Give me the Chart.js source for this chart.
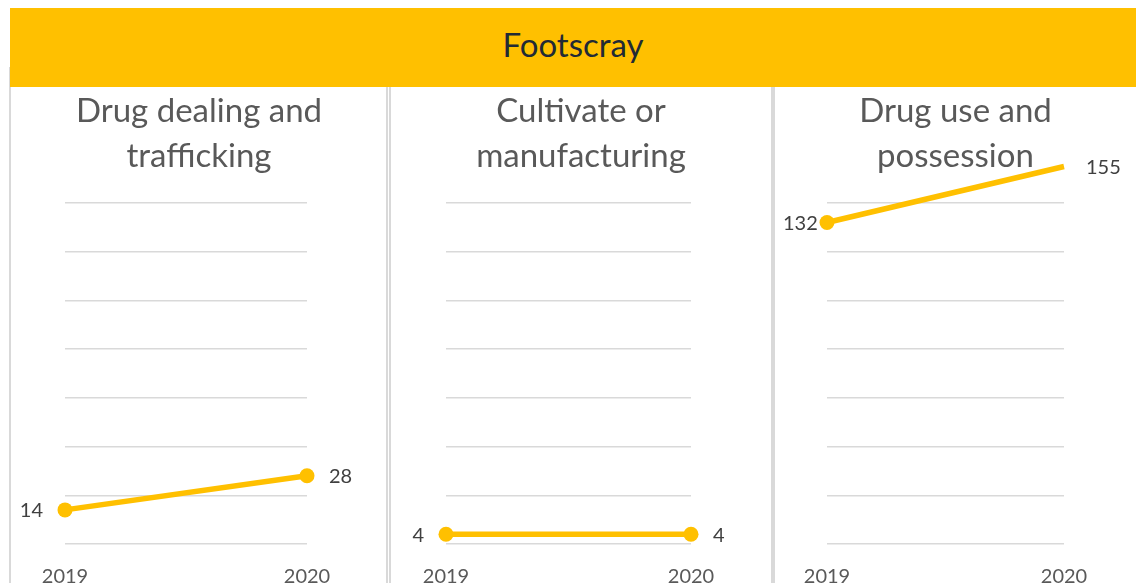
<!DOCTYPE html>
<html>
<head>
<meta charset="utf-8">
<script src="https://cdn.jsdelivr.net/npm/chart.js@4"></script>
<style>
  html, body { margin: 0; padding: 0; background: #fff; }
  body { width: 1136px; height: 583px; overflow: hidden; position: relative; font-family: Lato, sans-serif; }
  .cabecera { position: absolute; left: 10px; top: 8px; width: 1126px; height: 79px; background: #FFC000; z-index: 2; }
  .cabecera span { position: absolute; left: 0; right: 0; top: 20px; text-align: center; font-size: 33px; line-height: 33px; color: #222a35; }
  .borde { position: absolute; top: 67px; bottom: 0; width: 2px; background: #d9d9d9; z-index: 1; }
  .panel { position: absolute; top: 86px; height: 497px; }
  .panel canvas { position: absolute; left: 0; top: 0; }
  .titulo { position: absolute; left: 0; right: 0; top: 1px; text-align: center; font-size: 33px; line-height: 45px; color: #595959; z-index: 1; pointer-events: none; }
</style>
</head>
<body>

<div class="cabecera"><span>Footscray</span></div>

<div class="borde" style="left:9px"></div>
<div class="borde" style="left:386px"></div>
<div class="borde" style="left:389px"></div>
<div class="borde" style="left:771px; width:4px"></div>

<div class="panel" id="panel0" style="left:10px; width:378px"><div class="titulo" id="titulo0"></div><canvas id="plot0"></canvas></div>
<div class="panel" id="panel1" style="left:390px; width:382px"><div class="titulo" id="titulo1"></div><canvas id="plot1"></canvas></div>
<div class="panel" id="panel2" style="left:775px; width:361px"><div class="titulo" id="titulo2"></div><canvas id="plot2"></canvas></div>

<script>
// Datos por año
const anios = ['2019', '2020'];
const traficoValores = [14, 28];
const cultivoValores = [4, 4];
const consumoValores = [132, 155];

const titulos = [
  ['Drug dealing and', 'trafficking'],
  ['Cultivate or', 'manufacturing'],
  ['Drug use and', 'possession']
];

// Escala común a los tres gráficos
const ejeMax = 140;
const ejePaso = 20;

const series = [traficoValores, cultivoValores, consumoValores];

// Margen de cada gráfico dentro de su panel [izq, der]
const margenes = [[55, 81], [56, 81], [52, 72]];

const amarillo = '#FFC000';

// Etiquetas de valor a los lados de cada punto
const etiquetasValor = {
  id: 'etiquetasValor',
  afterDatasetsDraw(chart) {
    const ctx = chart.ctx;
    const meta = chart.getDatasetMeta(0);
    const datos = chart.data.datasets[0].data;
    ctx.save();
    ctx.font = '20px Lato, sans-serif';
    ctx.fillStyle = '#404040';
    ctx.textBaseline = 'middle';
    meta.data.forEach((punto, i) => {
      const texto = String(datos[i]);
      if (i === 0) {
        //La etiqueta de la izquierda no debe salirse del panel
        const ancho = ctx.measureText(texto).width;
        const x = Math.max(punto.x - 22, ancho + 8);
        ctx.textAlign = 'right';
        ctx.fillText(texto, x, punto.y + 1);
      } else {
        ctx.textAlign = 'left';
        ctx.fillText(texto, punto.x + 22, punto.y + 1);
      }
    });
    ctx.restore();
  }
};

let crearGrafico = (indice) => {
  let panel = document.getElementById('panel' + indice);
  let canvas = document.getElementById('plot' + indice);
  canvas.width = panel.offsetWidth;
  canvas.height = panel.offsetHeight;

  //Título del panel
  document.getElementById('titulo' + indice).innerHTML = titulos[indice].join('<br>');

  let config = {
    type: 'line',
    data: {
      labels: anios,
      datasets: [
        {
          data: series[indice],
          borderColor: amarillo,
          backgroundColor: amarillo,
          borderWidth: 5.5,
          pointRadius: 7.5,
          pointHoverRadius: 7.5,
          pointBorderWidth: 0,
          pointBackgroundColor: amarillo,
          clip: false,
          tension: 0
        }
      ]
    },
    options: {
      responsive: false,
      animation: false,
      layout: {
        autoPadding: false,
        padding: { left: margenes[indice][0], right: margenes[indice][1], top: 117, bottom: 0 }
      },
      plugins: {
        legend: { display: false },
        tooltip: { enabled: false },
        title: { display: false }
      },
      scales: {
        x: {
          offset: false,
          grid: { display: false },
          border: { display: false },
          ticks: {
            color: '#595959',
            font: { family: 'Lato', size: 20 },
            padding: 13,
            maxRotation: 0
          },
          afterFit: (escala) => { escala.height = 39; }
        },
        y: {
          min: 0,
          max: ejeMax,
          ticks: { display: false, stepSize: ejePaso },
          border: { display: false },
          grid: { color: '#d9d9d9', lineWidth: 1.5, drawTicks: false },
          afterFit: (escala) => { escala.width = 0; }
        }
      }
    },
    plugins: [etiquetasValor]
  };

  new Chart(canvas, config);
};

for (let i = 0; i < series.length; i++) {
  crearGrafico(i);
}
</script>
</body>
</html>
